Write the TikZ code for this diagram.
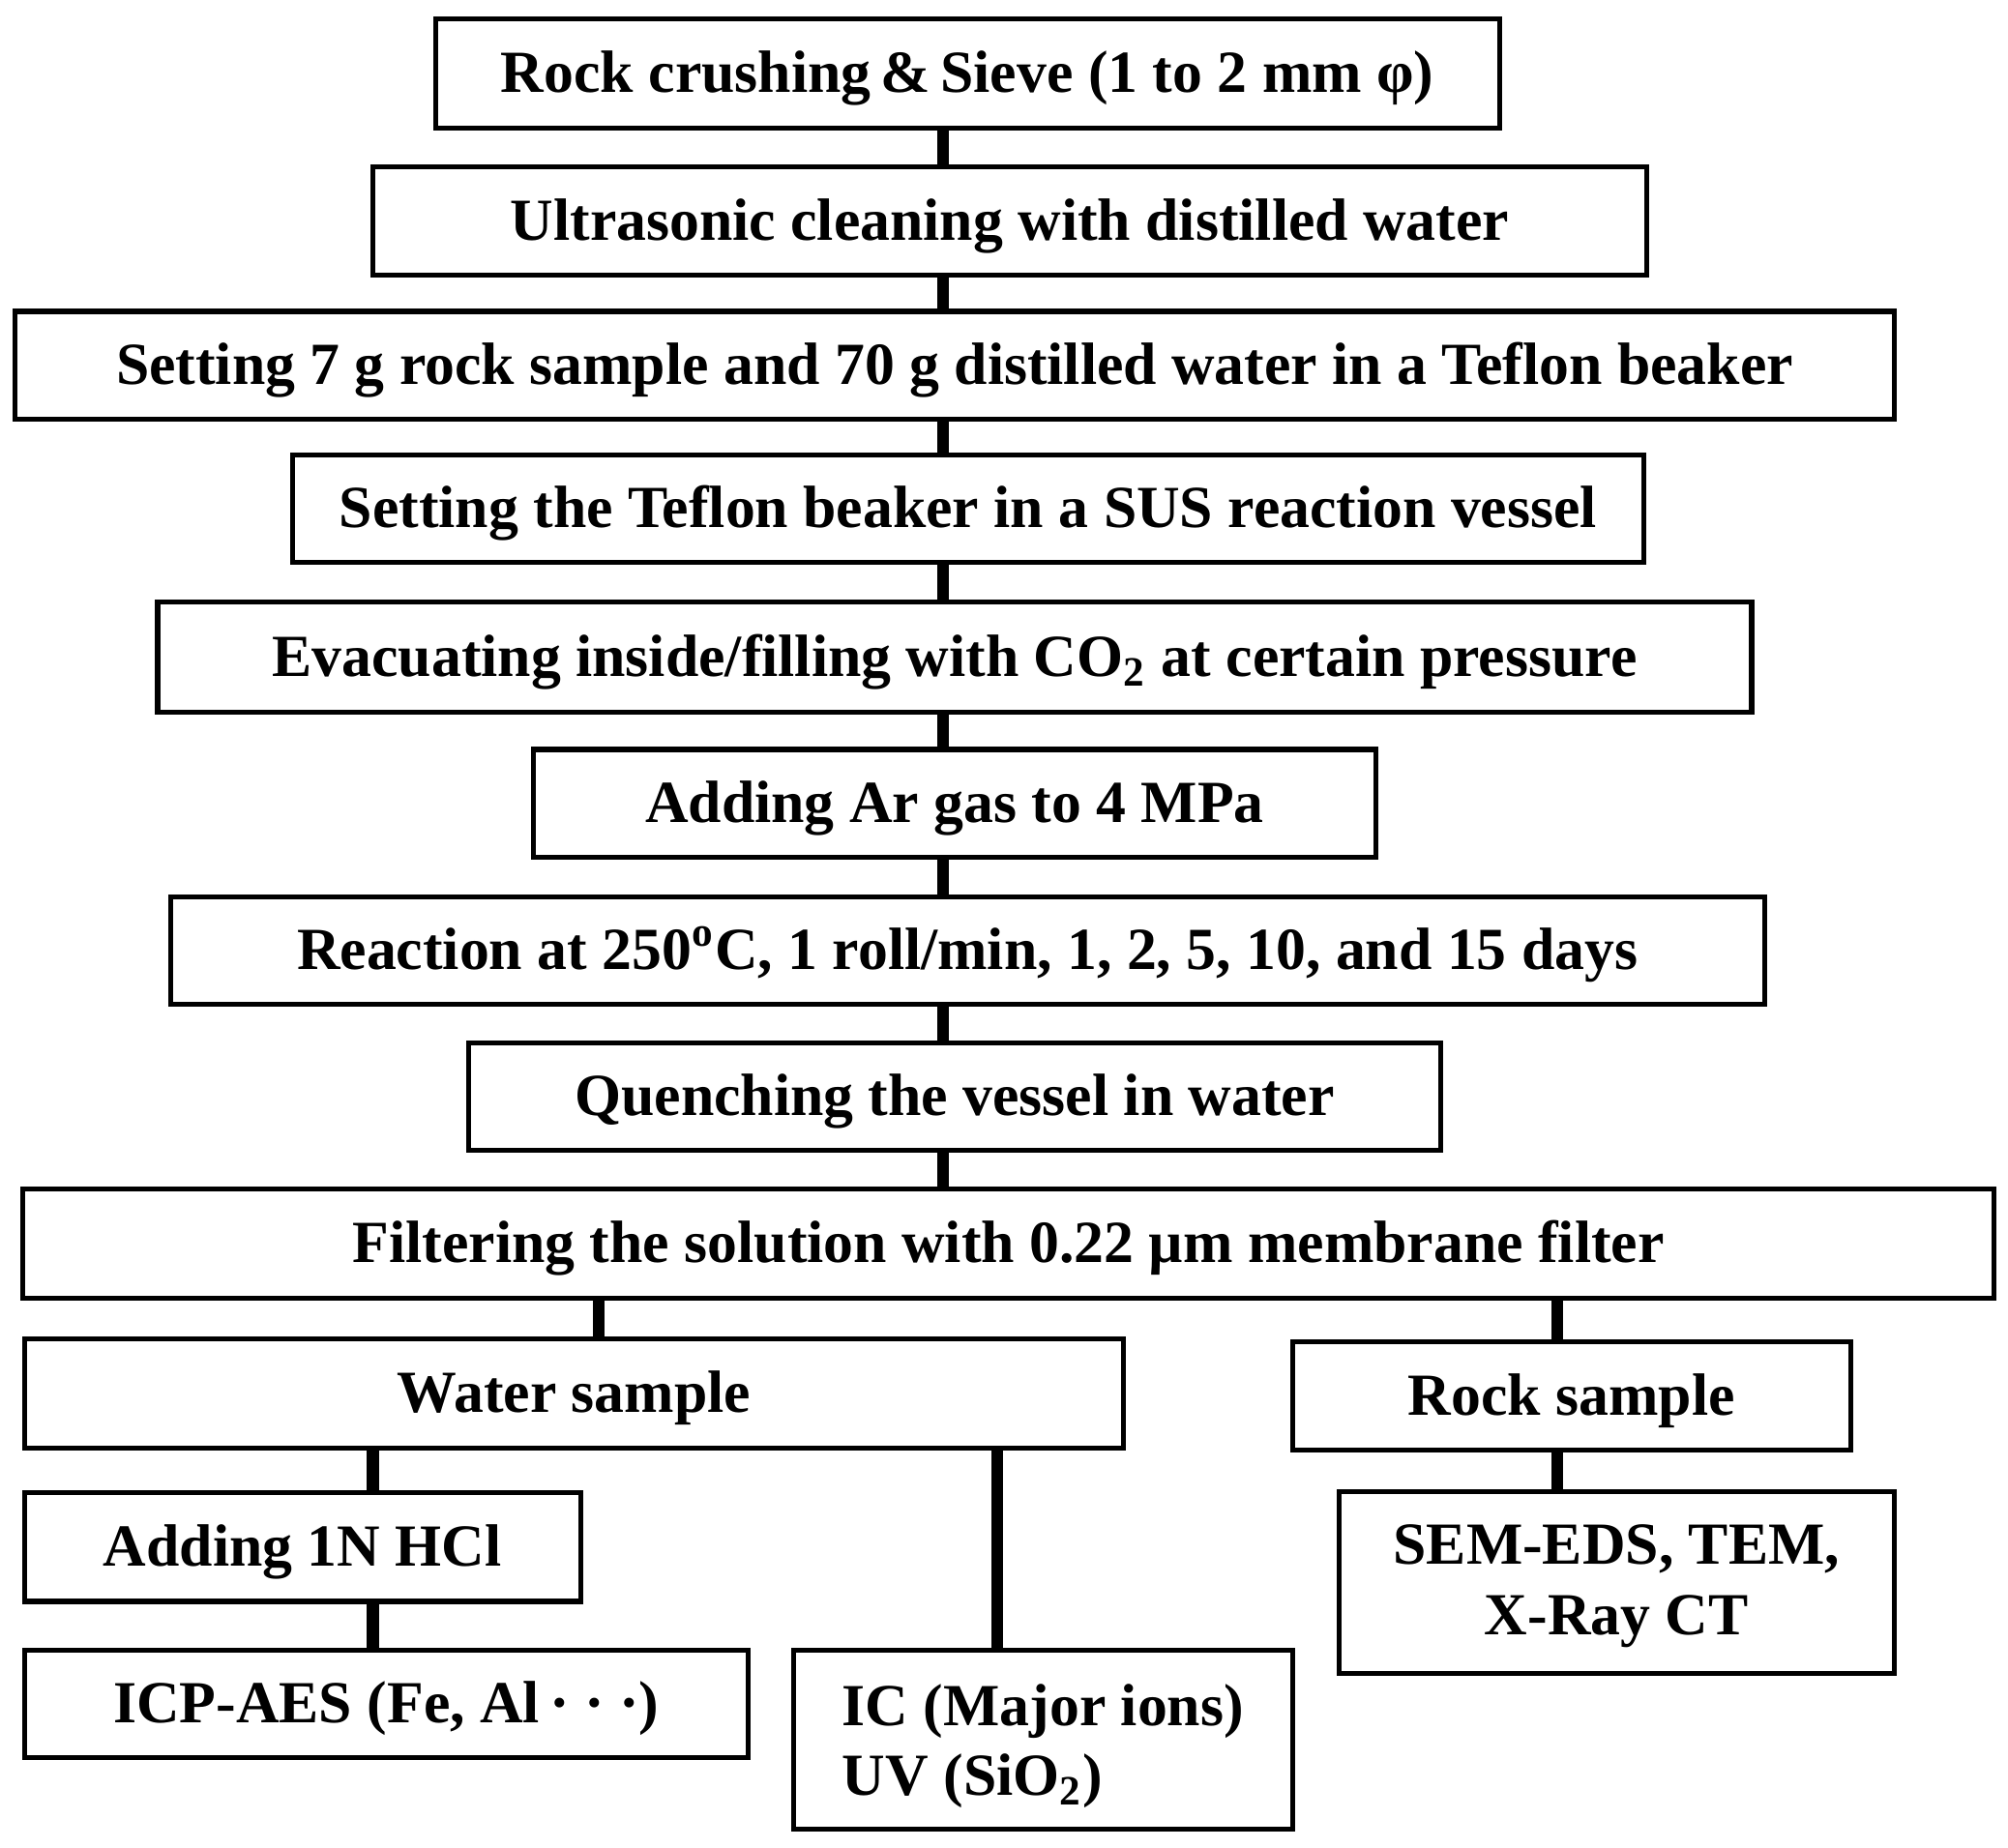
\documentclass[tikz,border=0pt]{standalone}
\usepackage{fontspec}
\setmainfont{Liberation Serif}
\usepackage{tikz}

\begin{document}
\begin{tikzpicture}[tallbox/.style={draw=black,line width=1.1pt,rectangle,inner sep=0pt,
      font=\fontsize{13.26}{15.6}\selectfont\bfseries},
    box/.style={tallbox,text height=1.0em,text depth=0.15em},
    link/.style={line width=2.6pt}]
  \useasboundingbox (0,0) rectangle (15.67,-14.418);
  % main chain
  \node[box,minimum width=8.30cm,minimum height=0.85cm] (rock) at (7.55,-0.575) {Rock crushing\,\&\,Sieve (1 to 2 mm φ)};
  \node[box,minimum width=9.94cm,minimum height=0.85cm] (ultra) at (7.88,-1.725) {Ultrasonic cleaning with distilled water};
  \node[box,minimum width=14.66cm,minimum height=0.84cm] (setsample) at (7.45,-2.85) {Setting 7 g rock sample and 70 g distilled water in a Teflon beaker};
  \node[box,minimum width=10.55cm,minimum height=0.84cm] (setvessel) at (7.555,-3.97) {Setting the Teflon beaker in a SUS reaction vessel};
  \node[box,minimum width=12.44cm,minimum height=0.86cm] (evac) at (7.45,-5.13) {Evacuating inside/filling with CO\textsubscript{2} at certain pressure};
  \node[box,minimum width=6.58cm,minimum height=0.84cm] (argas) at (7.45,-6.27) {Adding Ar gas to 4 MPa};
  \node[box,minimum width=12.44cm,minimum height=0.84cm] (react) at (7.55,-7.42) {Reaction at 250\textsuperscript{o}C, 1 roll/min, 1, 2, 5, 10, and 15 days};
  \node[box,minimum width=7.58cm,minimum height=0.84cm] (quench) at (7.45,-8.56) {Quenching the vessel in water};
  \node[box,minimum width=15.38cm,minimum height=0.85cm] (filter) at (7.87,-9.705) {Filtering the solution with 0.22 µm membrane filter};
  % branches
  \node[box,minimum width=8.58cm,minimum height=0.85cm] (water) at (4.48,-10.875) {Water sample};
  \node[box,minimum width=4.35cm,minimum height=0.85cm] (rocksample) at (12.265,-10.895) {Rock sample};
  \node[box,minimum width=4.34cm,minimum height=0.85cm] (hcl) at (2.36,-12.075) {Adding 1N HCl};
  \node[tallbox,minimum width=4.33cm,minimum height=1.42cm,align=center] (sem) at (12.615,-12.35) {\rule{0pt}{0.8em}SEM-EDS, TEM,\\X-Ray CT};
  \node[box,minimum width=5.65cm,minimum height=0.84cm] (icp) at (3.015,-13.30) {ICP-AES (Fe, Al\,·\hspace{0.25em}·\hspace{0.25em}·)};
  \node[tallbox,minimum width=3.90cm,minimum height=1.40cm,align=left] (icuv) at (8.14,-13.58) {\rule{0pt}{0.9em}IC (Major ions)\\UV (SiO\textsubscript{2})};

  \coordinate (spine) at (7.36,0);
  \coordinate (wx) at (4.67,0);
  \coordinate (rx) at (12.15,0);
  \coordinate (hx) at (2.91,0);
  \coordinate (ix) at (7.78,0);
  \foreach \a/\b in {rock/ultra,ultra/setsample,setsample/setvessel,setvessel/evac,
      evac/argas,argas/react,react/quench,quench/filter}
    \draw[link] (\a.south -| spine) -- (\b.north -| spine);
  \draw[link] (filter.south -| wx) -- (water.north -| wx);
  \draw[link] (filter.south -| rx) -- (rocksample.north -| rx);
  \draw[link] (water.south -| hx) -- (hcl.north -| hx);
  \draw[link] (hcl.south -| hx) -- (icp.north -| hx);
  \draw[link] (water.south -| ix) -- (icuv.north -| ix);
  \draw[link] (rocksample.south -| rx) -- (sem.north -| rx);
\end{tikzpicture}
\end{document}
